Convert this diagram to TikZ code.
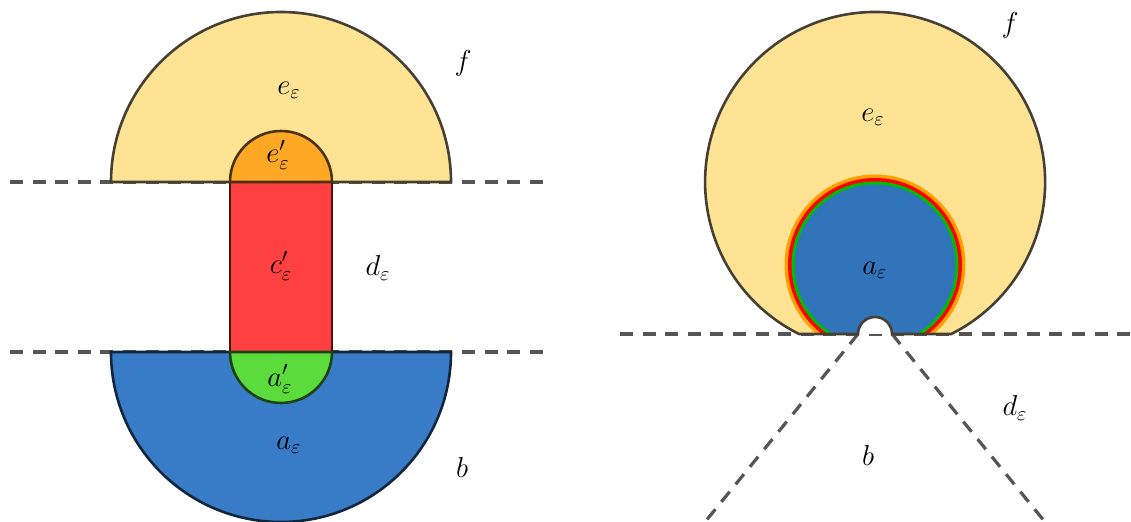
\documentclass[tikz,border=0pt]{standalone}
\usetikzlibrary{calc}
\definecolor{yel}{RGB}{255,227,148}
\definecolor{org}{RGB}{255,168,38}
\definecolor{rd}{RGB}{255,64,64}
\definecolor{grn}{RGB}{92,220,60}
\definecolor{blu}{RGB}{56,124,200}
\definecolor{blu2}{RGB}{50,116,186}
\definecolor{ringO}{RGB}{255,160,0}
\definecolor{ringR}{RGB}{255,0,0}
\definecolor{ringG}{RGB}{0,190,0}
\definecolor{dash}{RGB}{85,85,85}
\definecolor{outl}{RGB}{70,64,52}
\tikzset{
  cut/.style={draw=dash, line width=1.6pt, dash pattern=on 6.5pt off 4.8pt},
  region/.style={fill=#1, draw=#1!30!black, line width=1.3pt},
  lab/.style={font=\Large, inner sep=0pt},
}
\begin{document}
\begin{tikzpicture}[x=0.5pt,y=-0.5pt]
\useasboundingbox (0,0) rectangle (1131,522);
% ---------- left ----------
\coordinate (L1a) at (10,182); \coordinate (L1b) at (545,182);
\coordinate (L2a) at (10,352); \coordinate (L2b) at (545,352);
\draw[cut] (L1a) -- (L1b);
\draw[cut] (L2a) -- (L2b);
\draw[region=blu] (111,352) arc[start angle=180,end angle=0,radius=170] -- cycle;
\draw[region=yel, draw=outl] (111,182) arc[start angle=180,end angle=360,radius=170] -- cycle;
\draw[region=rd] (230,182) rectangle (332,352);
\draw[region=org] (230,182) arc[start angle=180,end angle=360,radius=51] -- cycle;
\draw[region=grn] (230,352) arc[start angle=180,end angle=0,radius=51] -- cycle;
\node[lab] (fL) at (463,63) {$f$};
\node[lab] (eL) at (289,90) {$e_\varepsilon$};
\node[lab] (epL) at (278,155) {$e'_\varepsilon$};
\node[lab] (cpL) at (281,266) {$c'_\varepsilon$};
\node[lab] (dL) at (378,268) {$d_\varepsilon$};
\node[lab] (apL) at (280,379) {$a'_\varepsilon$};
\node[lab] (aL) at (289,445) {$a_\varepsilon$};
\node[lab] (bL) at (462,468) {$b$};
% ---------- right ----------
\coordinate (H1) at (620,334); \coordinate (H2) at (1131,334);
\coordinate (P1) at (858,334); \coordinate (P2) at (892,334);
\coordinate (Q1) at (705,522); \coordinate (Q2) at (1045,522);
\draw[cut] (H1) -- (H2);
\draw[cut] (P1) -- (Q1);
\draw[cut] (P2) -- (Q2);
\begin{scope}
\clip (600,0) rectangle (1131,334);
\fill[yel] (875,182) circle[radius=170];
\fill[ringO] (875,265) circle[radius=90.5];
\fill[ringR] (875,265) circle[radius=87];
\fill[ringG] (875,265) circle[radius=83.5];
\fill[blu2] (875,265) circle[radius=80.5];
\end{scope}
\fill[white] (P1) arc[start angle=180,end angle=360,radius=17] -- cycle;
\draw[outl, line width=1.3pt] (799,334) arc[start angle=116.6,end angle=423.4,radius=170]
  -- (P2) arc[start angle=0,end angle=-180,radius=17] -- cycle;
\node[lab] (fR) at (1010,25) {$f$};
\node[lab] (eR) at (873,117) {$e_\varepsilon$};
\node[lab] (aR) at (875,270) {$a_\varepsilon$};
\node[lab] (dR) at (1015,408) {$d_\varepsilon$};
\node[lab] (bR) at (868,456) {$b$};
\end{tikzpicture}
\end{document}
